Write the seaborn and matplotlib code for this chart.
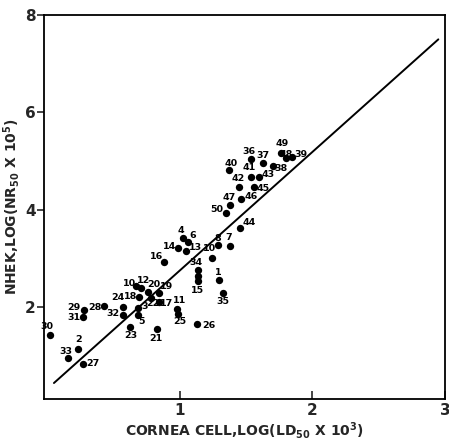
import numpy as np
import pandas as pd
import matplotlib
matplotlib.use("Agg")
import matplotlib.pyplot as plt
import seaborn as sns

# ---- data ----
labels = ["1", "2", "3", "4", "5", "6", "7", "8", "9", "10a", "10b", "11", "12", "13", "14",
          "15", "16", "17", "18", "19", "20", "21", "22", "23", "24", "25", "26", "27", "28",
          "29", "30", "31", "32", "33", "34", "35", "36", "37", "38", "39", "40", "41", "42",
          "43", "44", "45", "46", "47", "48", "49", "50"]
cornea = [1.296, 0.234, 0.686, 1.025, 0.686, 1.063, 1.379, 1.289, 1.138, 0.671, 1.243, 0.980,
          0.708, 1.047, 0.987, 1.138, 0.882, 0.844, 0.693, 0.844, 0.761, 0.829, 0.784, 0.625,
          0.573, 0.987, 1.130, 0.271, 0.430, 0.279, 0.023, 0.271, 0.573, 0.158, 1.138, 1.326,
          1.537, 1.628, 1.703, 1.846, 1.372, 1.537, 1.447, 1.598, 1.454, 1.560, 1.462, 1.379,
          1.801, 1.763, 1.349]
nhek = [2.56, 1.15, 1.99, 3.43, 1.85, 3.34, 3.26, 3.28, 2.65, 2.44, 3.02, 1.97, 2.40, 3.16,
        3.22, 2.54, 2.93, 2.11, 2.22, 2.30, 2.32, 1.56, 2.19, 1.60, 2.01, 1.87, 1.66, 0.84,
        2.03, 1.95, 1.44, 1.81, 1.85, 0.96, 2.77, 2.30, 5.05, 4.96, 4.90, 5.09, 4.82, 4.68,
        4.47, 4.68, 3.63, 4.47, 4.23, 4.10, 5.07, 5.17, 3.94]
line_x = [0.05, 2.95]
line_y = [0.45, 7.50]
x_ticks = [1, 2, 3]
y_ticks = [2, 4, 6, 8]

# label offsets (pixels, dx right, dy up) – styling only
offsets = {"1": (-1, 8), "2": (0, 9), "3": (6, 1), "4": (-2, 7), "5": (3, -7), "6": (4, 7),
           "7": (-1, 9), "8": (0, 7), "9": (0, -5), "10a": (-7, 3), "10b": (-3, 9),
           "11": (2, 8), "12": (2, 7), "13": (9, 3), "14": (-9, 1), "15": (-1, -9),
           "16": (-8, 6), "17": (7, -1), "18": (-9, 0), "19": (7, 6), "20": (6, 7),
           "21": (-1, -10), "22": (2, -5), "23": (1, -9), "24": (-5, 9), "25": (2, -8),
           "26": (12, -1), "27": (10, 1), "28": (-9, -1), "29": (-10, 2), "30": (-3, 8),
           "31": (-9, -1), "32": (-10, 1), "33": (-2, 7), "34": (-2, 7), "35": (0, -9),
           "36": (-2, 7), "37": (0, 8), "38": (8, -2), "39": (9, 2), "40": (2, 7),
           "41": (-2, 9), "42": (-1, 9), "43": (9, 2), "44": (9, 6), "45": (9, -1),
           "46": (10, 2), "47": (-1, 8), "48": (0, 3), "49": (1, 9), "50": (-9, 3)}

df = pd.DataFrame({"label": labels, "cornea": cornea, "nhek": nhek})
line_df = pd.DataFrame({"x": line_x, "y": line_y})

sns.set_style("white")
plt.rcParams["font.family"] = ["DejaVu Sans"]
plt.rcParams["font.weight"] = "bold"
plt.rcParams["mathtext.fontset"] = "dejavusans"

fig = plt.figure(figsize=(4.49, 4.41), dpi=100)
ax = fig.add_axes([0.098, 0.095, 0.893, 0.871])

sns.lineplot(data=line_df, x="x", y="y", color="black", linewidth=1.4, ax=ax)
sns.scatterplot(data=df, x="cornea", y="nhek", color="black", s=28, edgecolor="black",
                linewidth=0, ax=ax, zorder=3)

for lab, xv, yv in zip(labels, cornea, nhek):
    dx, dy = offsets[lab]
    txt = lab.rstrip("ab")
    ax.annotate(txt, (xv, yv), xytext=(dx * 0.72, dy * 0.72), textcoords="offset points",
                ha="center", va="center", fontsize=6.8, fontweight="bold", color="black")

ax.set_xlim(-0.025, 3.0)
ax.set_ylim(0.12, 8.0)
ax.set_xticks(x_ticks)
ax.set_yticks(y_ticks)
ax.set_xticklabels([str(t) for t in x_ticks], fontsize=11, fontweight="bold")
ax.set_yticklabels([str(t) for t in y_ticks], fontsize=11, fontweight="bold")
ax.tick_params(axis="x", direction="in", length=6, width=1.2, pad=3, bottom=True)
ax.tick_params(axis="y", direction="out", length=5, width=1.2, pad=1, left=True)
for sp in ax.spines.values():
    sp.set_color("black")
    sp.set_linewidth(1.3)

ax.set_xlabel(r"CORNEA CELL,LOG(LD$_{\mathbf{50}}$ X 10$^{\mathbf{3}}$)", fontsize=10,
              fontweight="bold", labelpad=1)
ax.set_ylabel(r"NHEK,LOG(NR$_{\mathbf{50}}$ X 10$^{\mathbf{5}}$)", fontsize=10,
              fontweight="bold", labelpad=2)

fig.savefig("out.png", dpi=100)
